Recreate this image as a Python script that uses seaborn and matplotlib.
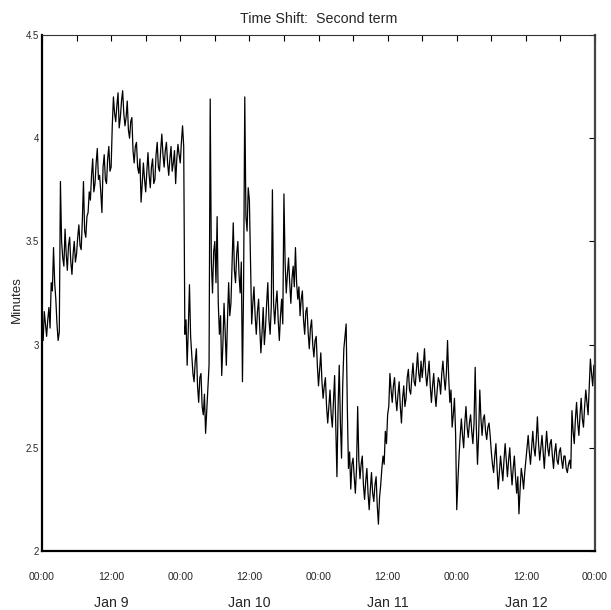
import numpy as np
import pandas as pd
import matplotlib
matplotlib.use("Agg")
import matplotlib.pyplot as plt
import matplotlib.transforms as mtransforms
import seaborn as sns

# Time axis: hours since Jan 9 00:00, one reading every 0.2 h
step_hours = 0.2

# Values (minutes), one row per 3 hours
minutes = [
    # Jan 9
    3.08, 3.02, 3.16, 3.10, 3.04, 3.12, 3.18, 3.08, 3.30, 3.26, 3.47, 3.30, 3.22, 3.10, 3.02,
    3.06, 3.79, 3.50, 3.42, 3.38, 3.56, 3.44, 3.36, 3.48, 3.52, 3.40, 3.34, 3.44, 3.50, 3.40,
    3.44, 3.52, 3.58, 3.48, 3.46, 3.60, 3.79, 3.55, 3.52, 3.62, 3.64, 3.74, 3.70, 3.82, 3.90,
    3.74, 3.78, 3.88, 3.95, 3.80, 3.82, 3.74, 3.64, 3.86, 3.92, 3.80, 3.78, 3.90, 3.96, 3.84,
    3.86, 4.06, 4.20, 4.12, 4.08, 4.16, 4.22, 4.05, 4.10, 4.18, 4.23, 4.12, 4.06, 4.10, 4.18,
    4.04, 4.00, 4.08, 4.10, 3.94, 3.88, 3.96, 3.98, 3.86, 3.83, 3.90, 3.69, 3.78, 3.88, 3.80,
    3.74, 3.84, 3.93, 3.82, 3.76, 3.86, 3.90, 3.78, 3.80, 3.92, 3.98, 3.86, 3.84, 3.94, 4.02,
    3.92, 3.86, 3.94, 3.98, 3.88, 3.82, 3.90, 3.96, 3.84, 3.88, 3.94, 3.78, 3.90, 3.97, 3.92,
    # Jan 10
    3.88, 3.98, 4.06, 3.96, 3.05, 3.12, 2.90, 3.08, 3.29, 3.04, 2.95, 2.86, 2.82, 2.92, 2.98,
    2.80, 2.72, 2.84, 2.86, 2.70, 2.66, 2.76, 2.57, 2.68, 2.80, 2.90, 4.19, 3.40, 3.25, 3.45,
    3.50, 3.30, 3.62, 3.20, 3.05, 3.14, 2.85, 3.00, 3.20, 3.06, 2.90, 3.12, 3.30, 3.14, 3.20,
    3.40, 3.59, 3.36, 3.30, 3.44, 3.50, 3.34, 3.25, 3.40, 2.82, 3.30, 4.20, 3.62, 3.55, 3.76,
    3.70, 3.40, 3.10, 3.20, 3.28, 3.14, 3.05, 3.16, 3.22, 3.08, 2.96, 3.06, 3.18, 3.00, 3.08,
    3.20, 3.30, 3.12, 3.05, 3.18, 3.75, 3.20, 3.10, 3.20, 3.26, 3.12, 3.02, 3.14, 3.22, 3.10,
    3.73, 3.40, 3.25, 3.34, 3.42, 3.30, 3.20, 3.32, 3.38, 3.28, 3.47, 3.30, 3.22, 3.28, 3.14,
    3.22, 3.26, 3.12, 3.05, 3.16, 3.18, 3.06, 2.98, 3.08, 3.12, 3.00, 2.94, 3.02, 3.04, 2.90,
    # Jan 11
    2.80, 2.88, 2.96, 2.82, 2.74, 2.80, 2.84, 2.70, 2.62, 2.70, 2.78, 2.66, 2.60, 2.72, 2.85,
    2.60, 2.36, 2.70, 2.90, 2.62, 2.45, 2.80, 2.98, 3.04, 3.10, 2.70, 2.40, 2.48, 2.30, 2.42,
    2.45, 2.36, 2.28, 2.40, 2.70, 2.44, 2.35, 2.42, 2.46, 2.32, 2.25, 2.34, 2.40, 2.28, 2.20,
    2.30, 2.38, 2.28, 2.24, 2.32, 2.36, 2.22, 2.13, 2.26, 2.32, 2.40, 2.46, 2.42, 2.58, 2.52,
    2.66, 2.70, 2.86, 2.78, 2.72, 2.80, 2.84, 2.74, 2.68, 2.76, 2.82, 2.70, 2.62, 2.74, 2.80,
    2.70, 2.74, 2.84, 2.88, 2.78, 2.76, 2.84, 2.91, 2.82, 2.80, 2.88, 2.96, 2.86, 2.82, 2.92,
    2.84, 2.90, 2.98, 2.86, 2.80, 2.86, 2.92, 2.80, 2.72, 2.80, 2.86, 2.76, 2.70, 2.78, 2.84,
    2.82, 2.76, 2.86, 2.92, 2.84, 2.78, 2.86, 3.02, 2.84, 2.72, 2.78, 2.60, 2.66, 2.74, 2.57,
    # Jan 12
    2.20, 2.34, 2.46, 2.56, 2.64, 2.56, 2.50, 2.62, 2.70, 2.60, 2.55, 2.62, 2.66, 2.58, 2.52,
    2.62, 2.89, 2.60, 2.42, 2.56, 2.78, 2.64, 2.56, 2.64, 2.66, 2.58, 2.54, 2.60, 2.62, 2.56,
    2.48, 2.42, 2.38, 2.46, 2.52, 2.40, 2.30, 2.38, 2.46, 2.40, 2.34, 2.44, 2.52, 2.44, 2.36,
    2.44, 2.50, 2.40, 2.32, 2.40, 2.46, 2.36, 2.28, 2.36, 2.18, 2.30, 2.40, 2.36, 2.30, 2.38,
    2.44, 2.50, 2.56, 2.48, 2.42, 2.50, 2.58, 2.50, 2.46, 2.54, 2.65, 2.52, 2.44, 2.50, 2.56,
    2.48, 2.40, 2.50, 2.58, 2.50, 2.46, 2.52, 2.54, 2.46, 2.40, 2.48, 2.52, 2.44, 2.42, 2.48,
    2.50, 2.44, 2.40, 2.46, 2.46, 2.40, 2.38, 2.42, 2.44, 2.40, 2.68, 2.58, 2.52, 2.64, 2.72,
    2.62, 2.56, 2.66, 2.74, 2.64, 2.60, 2.70, 2.78, 2.72, 2.66, 2.80, 2.93, 2.86, 2.80, 2.90,
    # Jan 13 00:00
    2.88,
]
hours = [i * step_hours for i in range(len(minutes))]

tick_hours = list(range(0, 97, 6))
tick_labels = ["00:00", "", "12:00", "", "00:00", "", "12:00", "", "00:00", "",
               "12:00", "", "00:00", "", "12:00", "", "00:00"]
day_labels = ["Jan 9", "Jan 10", "Jan 11", "Jan 12"]
day_centers = [12, 36, 60, 84]
y_ticks = [2, 2.5, 3, 3.5, 4, 4.5]
y_tick_labels = ["2", "2.5", "3", "3.5", "4", "4.5"]

df = pd.DataFrame({"hours": hours, "minutes": minutes})

sns.set_style("white")
plt.rcParams["font.family"] = ["Liberation Sans", "DejaVu Sans"]

fig = plt.figure(figsize=(6.11, 6.10), dpi=100)
ax = fig.add_axes([42 / 611, 59 / 610, 553 / 611, 516 / 610])

sns.lineplot(data=df, x="hours", y="minutes", ax=ax, color="black",
             linewidth=0.9, sort=False, estimator=None)

ax.set_xlim(0, 96)
ax.set_ylim(2, 4.5)
ax.set_xticks(tick_hours)
ax.set_xticklabels(tick_labels, fontsize=7.6)
ax.set_yticks(y_ticks)
ax.set_yticklabels(y_tick_labels, fontsize=6.9)
ax.tick_params(axis="both", direction="in", top=True, right=True,
               length=4, width=0.8, color="black")
ax.tick_params(axis="x", pad=15)
ax.tick_params(axis="y", pad=2)
ax.set_xlabel("")
ax.set_ylabel("")

for side in ["left", "bottom"]:
    ax.spines[side].set_linewidth(1.6)
    ax.spines[side].set_color("black")
ax.spines["top"].set_linewidth(0.8)
ax.spines["top"].set_color("#333333")
ax.spines["right"].set_linewidth(1.6)
ax.spines["right"].set_color("#444444")

trans = mtransforms.blended_transform_factory(ax.transData, ax.transAxes)
for lab, c in zip(day_labels, day_centers):
    ax.text(c, -0.101, lab, transform=trans, ha="center", va="center", fontsize=10.2)

fig.text(318.5 / 611, 1 - 19 / 610, "Time Shift:  Second term", ha="center",
         va="center", fontsize=10.3)
fig.text(17 / 611, 1 - 300 / 610, "Minutes", rotation=90, ha="center",
         va="center", fontsize=9.6)

fig.savefig("out.png", dpi=100)
